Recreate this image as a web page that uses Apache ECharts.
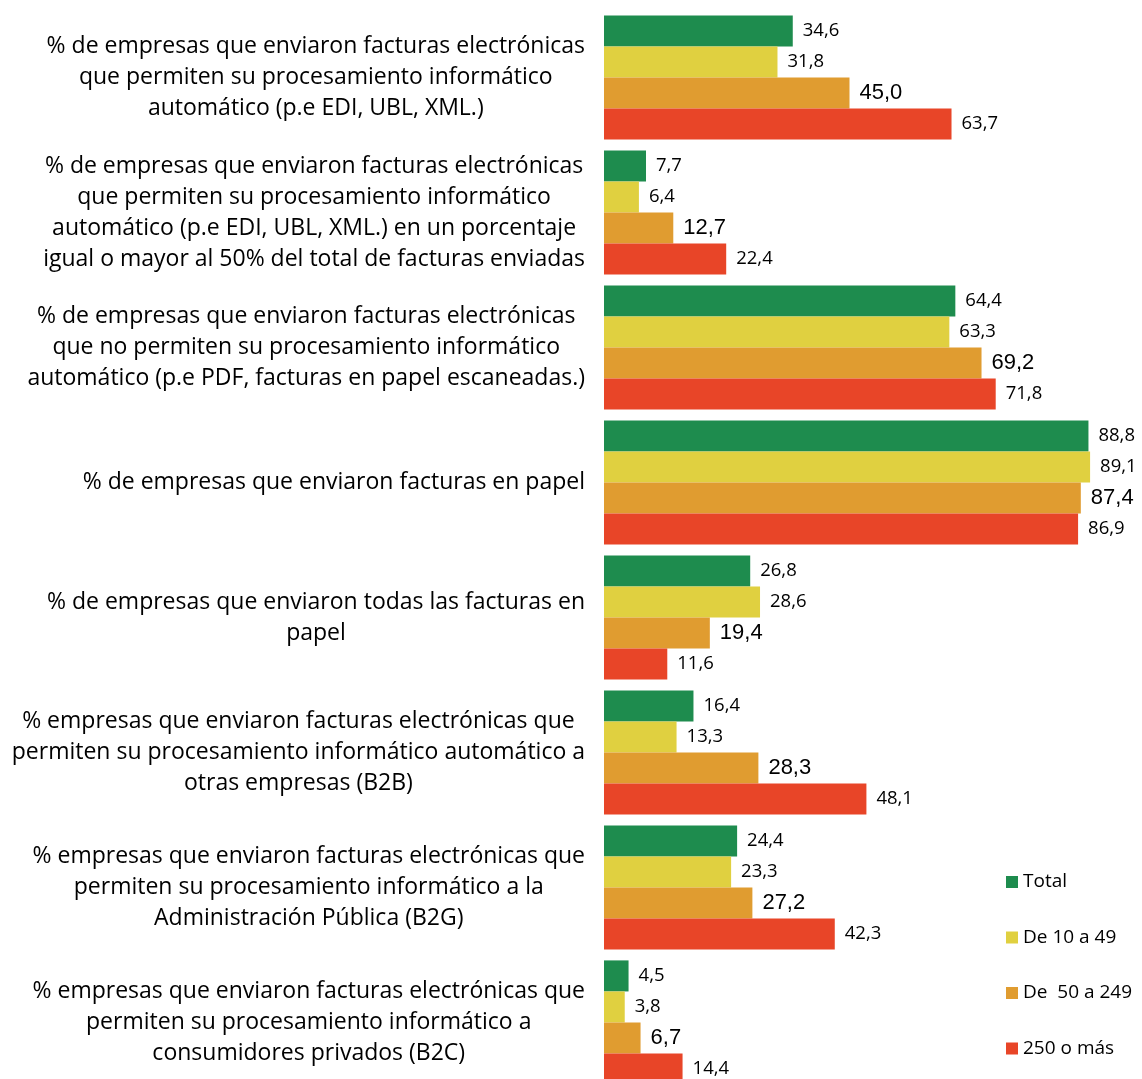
<!DOCTYPE html>
<html>
<head>
<meta charset="utf-8">
<script src="https://cdn.jsdelivr.net/npm/echarts@6/dist/echarts.min.js"></script>
<style>
  html, body { margin: 0; padding: 0; background: #fff; overflow: hidden; }
  #chart { width: 1142px; height: 1100px; }
</style>
</head>
<body>
<div id="chart"></div>
<script>
var categories = [
  '% de empresas que enviaron facturas electrónicas\nque permiten su procesamiento informático\nautomático (p.e EDI, UBL, XML.)',
  '% de empresas que enviaron facturas electrónicas\nque permiten su procesamiento informático\nautomático (p.e EDI, UBL, XML.) en un porcentaje\nigual o mayor al 50% del total de facturas enviadas',
  '% de empresas que enviaron facturas electrónicas\nque no permiten su procesamiento informático\nautomático (p.e PDF, facturas en papel escaneadas.)',
  '% de empresas que enviaron facturas en papel',
  '% de empresas que enviaron todas las facturas en\npapel',
  '% empresas que enviaron facturas electrónicas que\npermiten su procesamiento informático automático a\notras empresas (B2B)',
  '% empresas que enviaron facturas electrónicas que\npermiten su procesamiento informático a la\nAdministración Pública (B2G)',
  '% empresas que enviaron facturas electrónicas que\npermiten su procesamiento informático a\nconsumidores privados (B2C)'
];

var seriesNames = ['Total', 'De 10 a 49', 'De  50 a 249', '250 o más'];
var total = [34.6, 7.7, 64.4, 88.8, 26.8, 16.4, 24.4, 4.5];
var de10a49 = [31.8, 6.4, 63.3, 89.1, 28.6, 13.3, 23.3, 3.8];
var de50a249 = [45.0, 12.7, 69.2, 87.4, 19.4, 28.3, 27.2, 6.7];
var mas250 = [63.7, 22.4, 71.8, 86.9, 11.6, 48.1, 42.3, 14.4];
var colors = ['#1e8c4e', '#e0d040', '#e09c30', '#e84528'];

var FONT = '"Open Sans"';

function fmt(p) {
  return p.value.toFixed(1).replace('.', ',');
}

// the orange series' labels are in a different face in the original
function makeSeries(name, data, color, font, size) {
  return {
    name: name,
    type: 'bar',
    data: data,
    barGap: '0%',
    barCategoryGap: '8%',
    itemStyle: { color: color },
    label: {
      show: true,
      position: 'right',
      distance: 10,
      formatter: fmt,
      color: '#000',
      fontFamily: font,
      fontSize: size
    }
  };
}

// the last group runs past the bottom edge, so the canvas is a bit taller than the window
var chart = echarts.init(document.getElementById('chart'));
chart.setOption({
  animation: false,
  backgroundColor: '#fff',
  grid: { left: 604, top: 10, width: 491, height: 1080 },
  legend: {
    orient: 'vertical',
    left: 1001,
    top: 867,
    itemWidth: 12,
    itemHeight: 12,
    itemGap: 35.5,
    icon: 'rect',
    textStyle: { fontFamily: FONT, fontSize: 19, lineHeight: 20, color: '#000' },
    data: seriesNames
  },
  xAxis: {
    type: 'value',
    min: 0,
    max: 90,
    show: false
  },
  yAxis: {
    type: 'category',
    inverse: true,
    data: categories,
    axisLine: { show: false },
    axisTick: { show: false },
    axisLabel: {
      margin: 19,
      formatter: function (v) {
        return v.split('\n').map(function (l) { return '{c|' + l + '}'; }).join('\n');
      },
      rich: {
        c: { align: 'center', fontFamily: FONT, fontSize: 23, lineHeight: 31, color: '#000' }
      }
    }
  },
  series: [
    makeSeries(seriesNames[0], total, colors[0], FONT, 18.5),
    makeSeries(seriesNames[1], de10a49, colors[1], FONT, 18.5),
    makeSeries(seriesNames[2], de50a249, colors[2], '"Liberation Sans"', 22),
    makeSeries(seriesNames[3], mas250, colors[3], FONT, 18.5)
  ]
});
</script>
</body>
</html>
